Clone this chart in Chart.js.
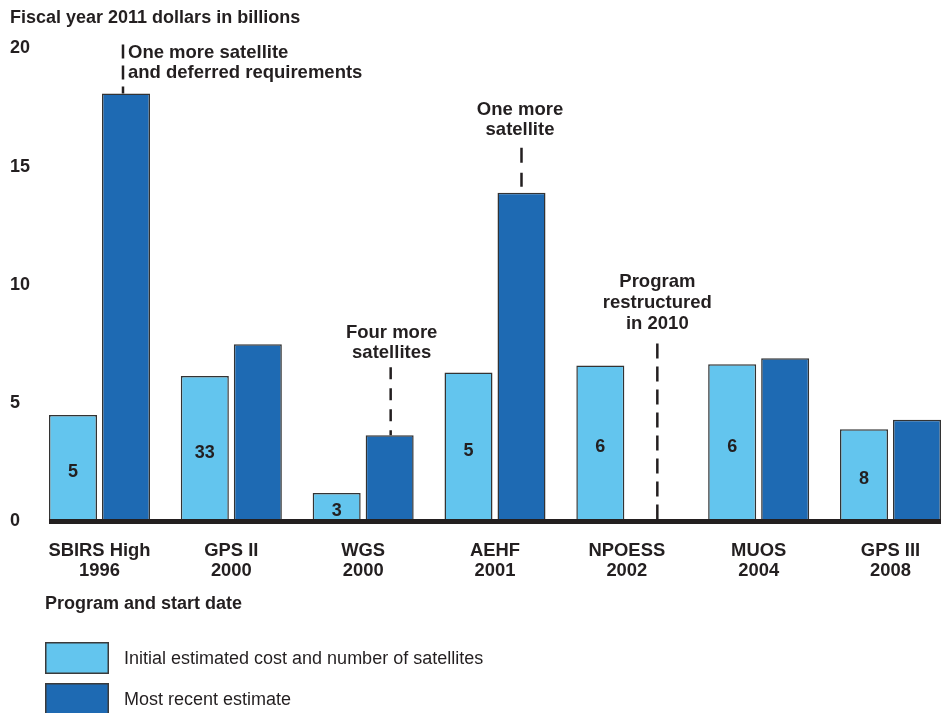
<!DOCTYPE html>
<html>
<head>
<meta charset="utf-8">
<script src="https://cdn.jsdelivr.net/npm/chart.js@4.4.1/dist/chart.umd.min.js"></script>
<style>
  html, body { margin: 0; padding: 0; background: #fff; }
  #wrap { position: relative; width: 951px; height: 713px; }
</style>
</head>
<body>
<div id="wrap"><canvas id="costChart"></canvas></div>
<script>
// Satellite programs - fiscal year 2011 dollars in billions
const programs = ['SBIRS High', 'GPS II', 'WGS', 'AEHF', 'NPOESS', 'MUOS', 'GPS III'];
const startYears = ['1996', '2000', '2000', '2001', '2002', '2004', '2008'];
const initialCost = [4.5, 6.15, 1.2, 6.3, 6.6, 6.65, 3.9];
const recentCost = [18.1, 7.5, 3.65, 13.9, null, 6.9, 4.3];
const initialSats = ['5', '33', '3', '5', '6', '6', '8'];
const yTicks = [0, 5, 10, 15, 20];
const notes = [
  ['One more satellite', 'and deferred requirements'],
  null,
  ['Four more', 'satellites'],
  ['One more', 'satellite'],
  ['Program', 'restructured', 'in 2010'],
  null,
  null
];

const ink = '#231f20';
const lightBlue = '#63c5ee';
const darkBlue = '#1e6ab3';
const fontFam = '"Liberation Sans", Arial, Helvetica, sans-serif';

function dashedLine(ctx, x, y1, y2, dash) {
  ctx.save();
  ctx.strokeStyle = ink;
  ctx.lineWidth = 2.5;
  ctx.setLineDash(dash);
  ctx.beginPath();
  ctx.moveTo(x, y1);
  ctx.lineTo(x, y2);
  ctx.stroke();
  ctx.restore();
}

function textLines(ctx, lines, x, y0, step, align) {
  ctx.textAlign = align;
  lines.forEach((t, k) => ctx.fillText(t, x, y0 + k * step));
}

// Annotations, baseline, counts, legend
const overlay = {
  id: 'overlay',
  afterDatasetsDraw(chart) {
    const ctx = chart.ctx;
    const ys = chart.scales.y;
    const m0 = chart.getDatasetMeta(0);
    const m1 = chart.getDatasetMeta(1);
    const zero = ys.getPixelForValue(0);
    const dx = m1.data[0].x - m0.data[0].x;
    ctx.save();

    // numbers of satellites in the light bars
    ctx.fillStyle = ink;
    ctx.font = 'bold 18px ' + fontFam;
    ctx.textAlign = 'center';
    ctx.textBaseline = 'middle';
    m0.data.forEach((bar, i) => {
      ctx.fillText(initialSats[i], bar.x, (bar.y + zero) / 2 + 4);
    });

    // thick baseline
    const first = m0.data[0];
    const last = m1.data[m1.data.length - 1];
    const x0 = first.x - first.width / 2;
    const x1 = last.x + last.width / 2;
    ctx.fillRect(x0, zero - 2.5, x1 - x0, 5);

    // notes
    ctx.font = 'bold 18.5px ' + fontFam;
    const top = chart.chartArea.top;
    notes.forEach((lines, i) => {
      if (!lines) return;
      const bx = m0.data[i].x + dx;
      const bTop = recentCost[i] == null ? zero : m1.data[i].y;
      if (i === 0) {
        const lx = bx - 3;
        dashedLine(ctx, lx, top - 4, bTop, [14, 7]);
        textLines(ctx, lines, lx + 5, top + 4, 20.5, 'left');
      } else if (i === 2) {
        dashedLine(ctx, bx + 1, bTop - 68, bTop, [12, 9]);
        textLines(ctx, lines, bx + 2, bTop - 102, 20, 'center');
      } else if (i === 3) {
        dashedLine(ctx, bx, bTop - 45, bTop - 6, [15, 10]);
        textLines(ctx, lines, bx - 1.5, bTop - 83, 20, 'center');
      } else {
        dashedLine(ctx, bx + 4, zero - 178, zero, [15, 8]);
        textLines(ctx, lines, bx + 4, zero - 240, 21, 'center');
      }
    });

    // axis caption and legend
    ctx.textAlign = 'left';
    ctx.font = 'bold 18px ' + fontFam;
    ctx.fillText('Program and start date', 45, 604);
    ctx.font = '18px ' + fontFam;
    chart.data.datasets.forEach((ds, k) => {
      const by = 642 + k * 41;
      ctx.fillStyle = ds.backgroundColor;
      ctx.fillRect(45, by, 64, 32);
      ctx.strokeStyle = '#3a3a3a';
      ctx.lineWidth = 1.5;
      ctx.strokeRect(45.75, by + 0.75, 62.5, 30.5);
      ctx.fillStyle = ink;
      ctx.fillText(ds.label, 124, by + 17);
    });
    ctx.restore();
  }
};

const chart = new Chart(document.getElementById('costChart'), {
  type: 'bar',
  data: {
    labels: programs.map((p, i) => [p, startYears[i]]),
    datasets: [{
      label: 'Initial estimated cost and number of satellites',
      data: initialCost,
      backgroundColor: lightBlue,
      borderColor: '#333333',
      borderWidth: 1.5,
      borderSkipped: 'bottom',
      clip: false
    }, {
      label: 'Most recent estimate',
      data: recentCost,
      backgroundColor: darkBlue,
      borderColor: '#333333',
      borderWidth: 1.5,
      borderSkipped: 'bottom',
      clip: false
    }]
  },
  options: {
    responsive: true,
    maintainAspectRatio: false,
    animation: false,
    categoryPercentage: 0.804,
    barPercentage: 0.906,
    layout: { padding: { top: 7, left: 10, right: 60.5, bottom: 0 } },
    plugins: {
      legend: { display: false },
      tooltip: { enabled: false },
      title: {
        display: true,
        text: 'Fiscal year 2011 dollars in billions',
        align: 'start',
        color: ink,
        font: { family: fontFam, size: 18, weight: 'bold' },
        padding: { top: 0, bottom: 19.9 }
      }
    },
    scales: {
      x: {
        offset: false,
        grid: { display: false },
        border: { display: false },
        ticks: {
          color: ink,
          padding: 11.5,
          maxRotation: 0,
          autoSkip: false,
          font: { family: fontFam, size: 18.4, weight: 'bold', lineHeight: 20 / 18.4 }
        },
        afterFit: s => { s.height = 713 - 521.5; }
      },
      y: {
        min: 0,
        max: 20,
        grid: { display: false },
        border: { display: false },
        afterBuildTicks: s => { s.ticks = yTicks.map(v => ({ value: v })); },
        ticks: {
          color: ink,
          crossAlign: 'far',
          padding: 0,
          font: { family: fontFam, size: 18, weight: 'bold' }
        },
        afterFit: s => { s.width = 89.5; }
      }
    }
  },
  plugins: [overlay]
});
</script>
</body>
</html>
